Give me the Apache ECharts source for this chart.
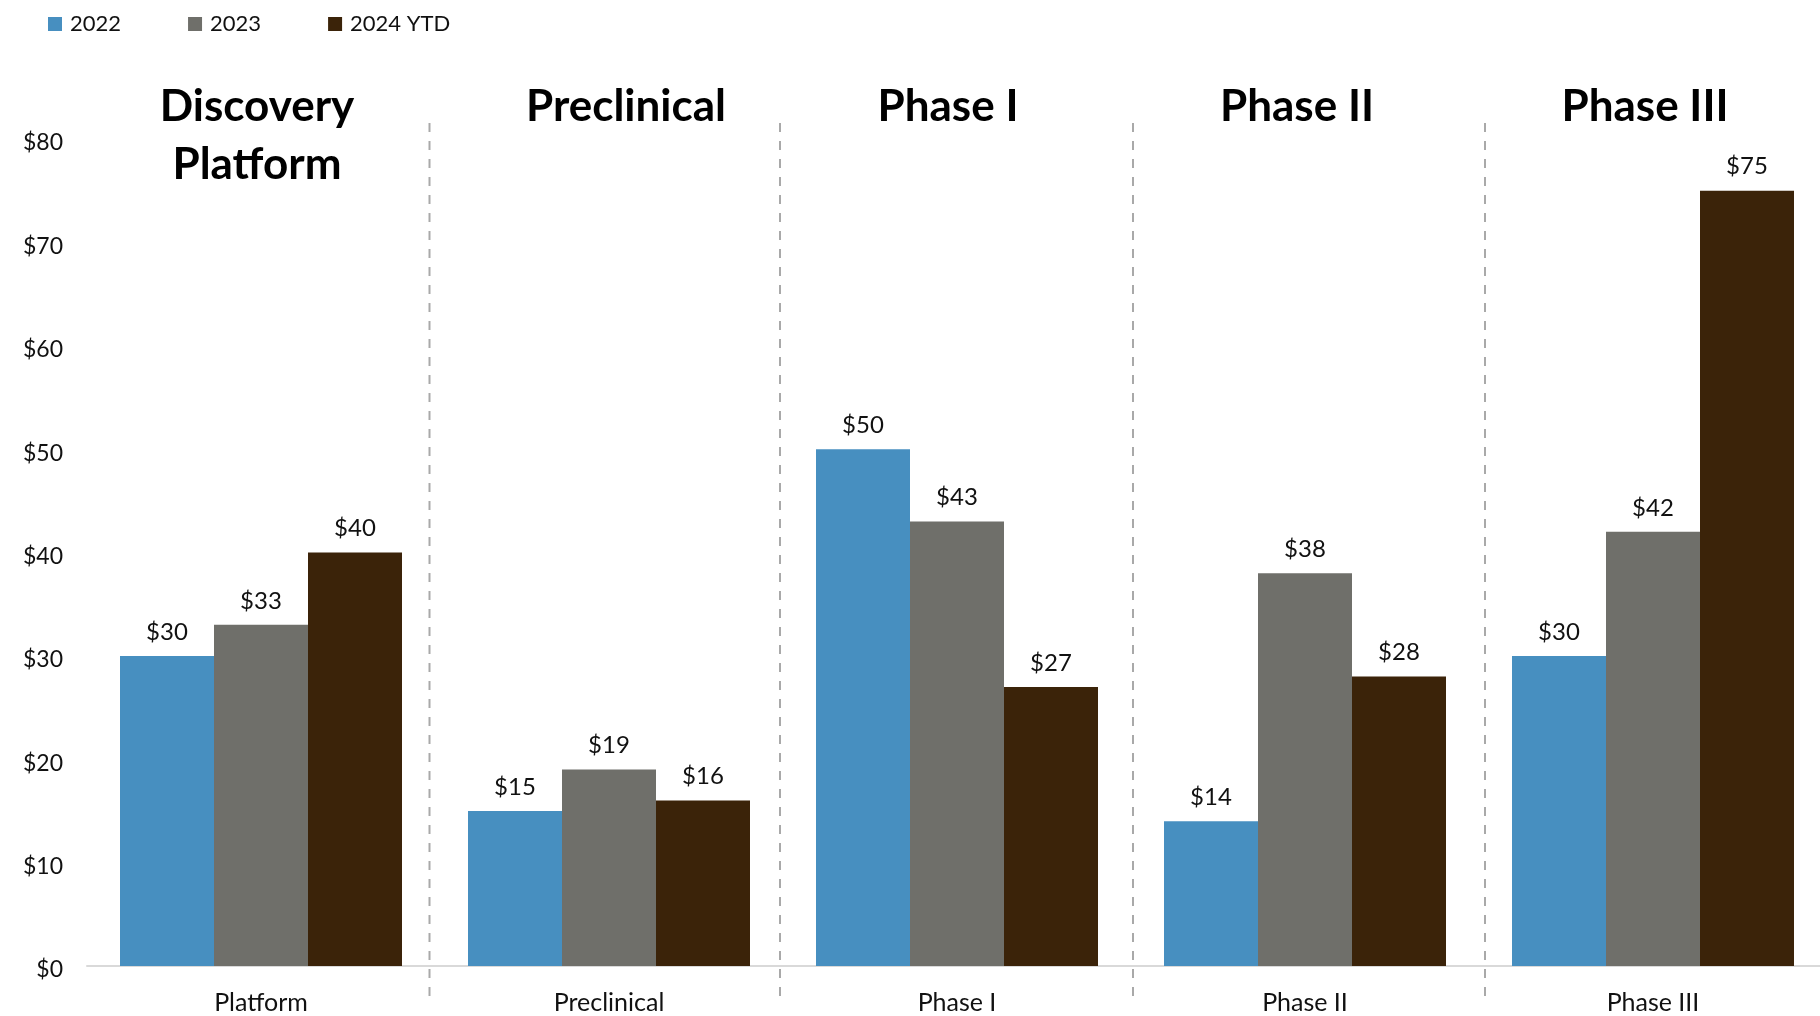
<!DOCTYPE html>
<html>
<head>
<meta charset="utf-8">
<title>Funding by development stage</title>
<script src="https://cdn.jsdelivr.net/npm/echarts@6/dist/echarts.min.js"></script>
<style>
  html, body { margin: 0; padding: 0; background: #ffffff; overflow: hidden; }
  /* canvas runs a few pixels past the right edge so the last group is clipped slightly */
  #chart { width: 1827px; height: 1016px; }
</style>
</head>
<body>
<div id="chart"></div>
<script>
// Development stages along the x axis
const categories = ['Platform', 'Preclinical', 'Phase I', 'Phase II', 'Phase III'];
// Bold headings shown above each stage
const stageTitles = ['Discovery\nPlatform', 'Preclinical', 'Phase I', 'Phase II', 'Phase III'];

// Series names and values ($)
const seriesNames = ['2022', '2023', '2024 YTD'];
const values2022 = [30, 15, 50, 14, 30];
const values2023 = [33, 19, 43, 38, 42];
const values2024 = [40, 16, 27, 28, 75];

// Y axis tick range
const yMin = 0;
const yMax = 80;
const yStep = 10;

const colors = ['#478fc0', '#6f6f6a', '#3b2309'];
const FONT = 'Lato, "Noto Sans", sans-serif';

// Heading centres and separator positions (px)
const titleCenters = [257, 626, 948, 1297, 1645];
const separatorX = [429.5, 780, 1133, 1485];

const chart = echarts.init(document.getElementById('chart'), null, { renderer: 'canvas' });

const seriesData = [values2022, values2023, values2024];
const series = seriesNames.map((name, i) => ({
  name: name,
  type: 'bar',
  data: seriesData[i],
  barWidth: 94,
  barGap: '0%',
  itemStyle: { color: colors[i] },
  label: {
    show: true,
    position: 'top',
    distance: 12,
    formatter: p => '$' + p.value,
    fontFamily: FONT,
    fontSize: 24,
    color: '#111111'
  }
}));

const graphics = [];
separatorX.forEach(x => {
  graphics.push({
    type: 'line',
    shape: { x1: x, y1: 123, x2: x, y2: 1000 },
    style: { stroke: '#a9a9a9', lineWidth: 2, lineDash: [9, 9] },
    silent: true
  });
});
stageTitles.forEach((t, i) => {
  graphics.push({
    type: 'text',
    x: titleCenters[i],
    y: 78,
    style: {
      text: t,
      fontFamily: FONT,
      fontWeight: 'bold',
      fontSize: 44,
      lineHeight: 58,
      fill: '#000000',
      align: 'center',
      verticalAlign: 'top'
    },
    silent: true
  });
});

chart.setOption({
  animation: false,
  backgroundColor: '#ffffff',
  color: colors,
  legend: {
    data: seriesNames,
    left: 48,
    top: 13,
    padding: 0,
    icon: 'rect',
    itemWidth: 14,
    itemHeight: 14,
    itemGap: 67,
    textStyle: { fontFamily: FONT, fontSize: 22, color: '#111111', padding: [0, 0, 0, 3] }
  },
  grid: { left: 87, right: 0, top: 139, bottom: 50, containLabel: false },
  xAxis: {
    type: 'category',
    data: categories,
    axisLine: { show: true, lineStyle: { color: '#d9d9d9', width: 2 } },
    axisTick: { show: false },
    axisLabel: { fontFamily: FONT, fontSize: 25, color: '#111111', margin: 24 },
    splitLine: { show: false }
  },
  yAxis: {
    type: 'value',
    min: yMin,
    max: yMax,
    interval: yStep,
    axisLine: { show: false },
    axisTick: { show: false },
    splitLine: { show: false },
    axisLabel: {
      color: '#111111',
      margin: 24,
      formatter: v => '{v|$' + v + '}',
      rich: {
        v: { fontFamily: FONT, fontSize: 23, color: '#111111', padding: [8, 0, 0, 0] }
      }
    }
  },
  series: series,
  graphic: graphics
});
</script>
</body>
</html>
